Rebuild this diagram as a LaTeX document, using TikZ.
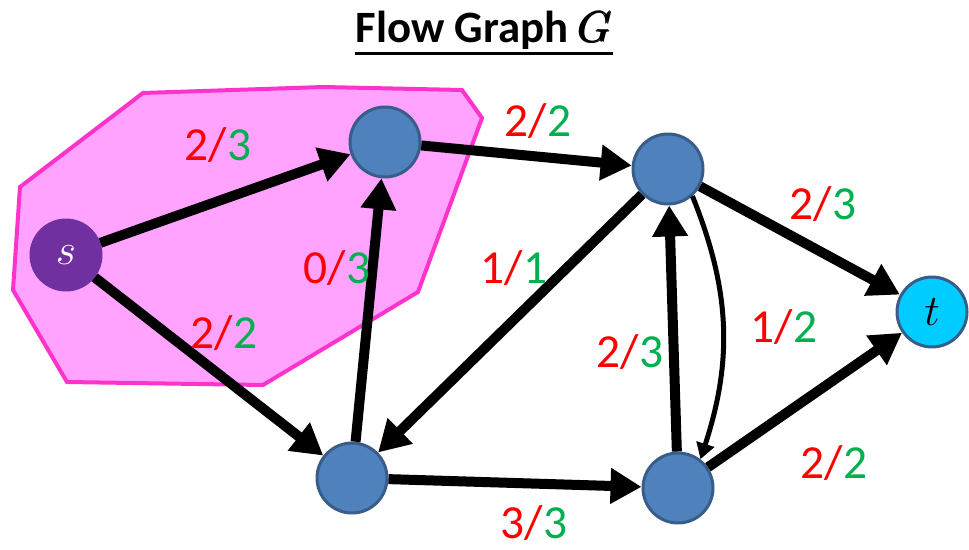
\documentclass[tikz,border=0pt]{standalone}
\usepackage{amsmath}
\usepackage{fontspec}
\setmainfont{Carlito}
\usetikzlibrary{arrows.meta}

\definecolor{cutfill}{RGB}{255,163,255}
\definecolor{cutline}{RGB}{255,51,204}
\definecolor{vblue}{RGB}{79,129,189}
\definecolor{vborder}{RGB}{56,93,138}
\definecolor{spurple}{RGB}{112,48,160}
\definecolor{tcyan}{RGB}{0,204,255}
\definecolor{flowred}{RGB}{255,0,0}
\definecolor{capgreen}{RGB}{0,176,80}

\newcommand{\fc}[2]{\textcolor{flowred}{#1/}\textcolor{capgreen}{#2}}

\tikzset{
    vertex/.style={circle, fill=vblue, draw=vborder, line width=0.06cm, minimum size=1.4cm, inner sep=0pt},
    flow/.style={line width=0.2cm, -{Triangle[length=0.62cm,width=0.68cm]}},
    backflow/.style={line width=0.1cm, -{Triangle[length=0.32cm,width=0.36cm]}},
    flab/.style={font=\fontsize{27}{30}\selectfont, inner sep=0pt, anchor=base}
}

\begin{document}
\begin{tikzpicture}[x=0.02cm, y=-0.02cm]
        \useasboundingbox (0,0) rectangle (969,550);

        % nadpis
        \node[font=\fontsize{25.5}{30}\selectfont\bfseries, inner sep=0pt, anchor=base] (title) at (484,43) {Flow Graph $\pmb{G}$};
        \draw[line width=0.05cm] ([yshift=-0.06cm]title.south west) -- ([yshift=-0.06cm]title.south east);

        % rez
        \draw[cutline, fill=cutfill, line width=0.08cm] (143,93) -- (323,87) -- (462,90) -- (482,118) -- (418,292)
            -- (263,385) -- (67,382) -- (13,290) -- (20,187) -- cycle;

        % vrcholy
        \node[circle, fill=spurple, draw=spurple, line width=0.06cm, minimum size=1.4cm, inner sep=0pt,
            text=white, font=\fontsize{30}{30}\selectfont] (s) at (66,255) {$s$};
        \node[vertex] (a) at (385,142) {};
        \node[vertex] (b) at (668,169) {};
        \node[vertex] (c) at (352,478) {};
        \node[vertex] (d) at (678,488) {};
        \node[vertex, fill=tcyan, font=\fontsize{30}{30}\selectfont] (t) at (932,312) {$t$};

        % hrany
        \draw[flow] (s) -- (a);
        \draw[flow] (s) -- (c);
        \draw[flow] (c) -- (a);
        \draw[flow] (a) -- (b);
        \draw[flow] (b) -- (c);
        \draw[flow] (c) -- (d);
        \draw[flow] (d) -- (b);
        \draw[flow] (b) -- (t);
        \draw[flow] (d) -- (t);
        \draw[backflow] (b.-48) to[out=-68, in=72] (d.52);

        % toky / kapacity
        \node[flab] (lsa) at (218,161) {\fc{2}{3}};
        \node[flab] (lsc) at (224,348) {\fc{2}{2}};
        \node[flab] (lca) at (337,283) {\fc{0}{3}};
        \node[flab] (lab) at (538,137) {\fc{2}{2}};
        \node[flab] (lbc) at (514,283) {\fc{1}{1}};
        \node[flab] (lcd) at (534,538) {\fc{3}{3}};
        \node[flab] (ldb) at (630,367) {\fc{2}{3}};
        \node[flab] (lbd) at (784,342) {\fc{1}{2}};
        \node[flab] (lbt) at (823,220) {\fc{2}{3}};
        \node[flab] (ldt) at (834,478) {\fc{2}{2}};
    \end{tikzpicture}
\end{document}
